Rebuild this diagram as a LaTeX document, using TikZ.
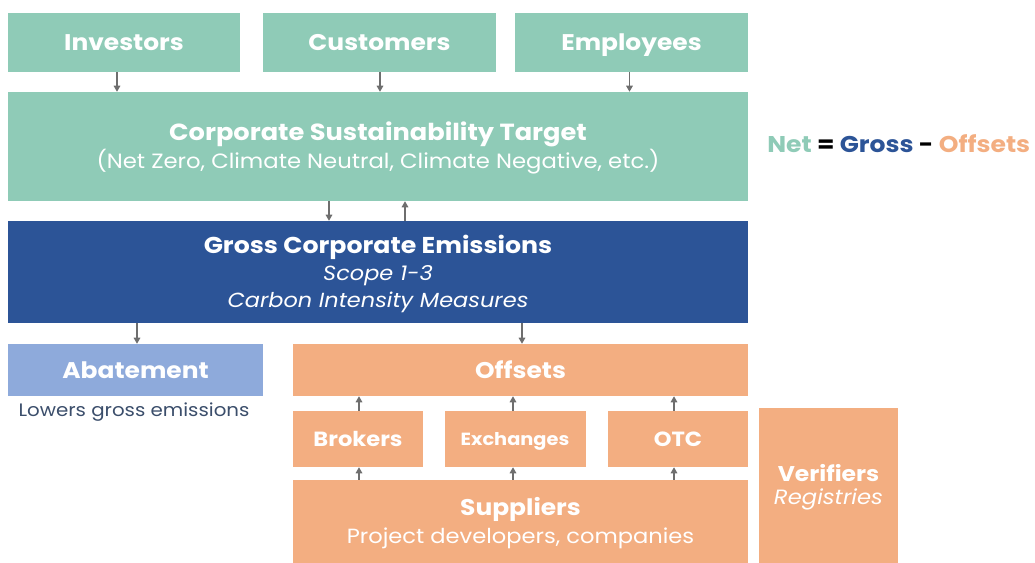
\documentclass[tikz,border=0pt]{standalone}
\usepackage{fontspec}
\setmainfont{Poppins}[FakeStretch=1.1]
\usetikzlibrary{arrows.meta}
\definecolor{teal}{HTML}{8FCBB7}
\definecolor{navy}{HTML}{2C5497}
\definecolor{lblue}{HTML}{8EAADB}
\definecolor{peach}{HTML}{F3AE81}
\definecolor{arrowgray}{HTML}{6E6E6E}
\definecolor{note}{HTML}{3B4E6B}
\begin{document}
\begin{tikzpicture}[x=0.75pt,y=-0.75pt,
  box/.style={rectangle, inner sep=0pt, text=white, align=center},
  tealbox/.style={box, fill=teal},
  navybox/.style={box, fill=navy},
  bluebox/.style={box, fill=lblue},
  peachbox/.style={box, fill=peach},
  head/.style={font=\fontsize{17}{20}\selectfont\bfseries, text height=12pt, text depth=0pt},
  flow/.style={draw=arrowgray, line width=0.8pt, -{Triangle[width=5pt,length=4.5pt]}}
]
\useasboundingbox (0,0) rectangle (1035,563);
% top row
\node[tealbox, head, minimum width=232*0.75pt, minimum height=59*0.75pt] (inv) at (124,42.5) {Investors};
\node[tealbox, head, minimum width=233*0.75pt, minimum height=59*0.75pt] (cus) at (379.5,42.5) {Customers};
\node[tealbox, head, minimum width=233*0.75pt, minimum height=59*0.75pt] (emp) at (631.5,42.5) {Employees};
% target
\node[tealbox, minimum width=740*0.75pt, minimum height=109*0.75pt] (cst) at (378,146.5) {};
\node[text=white, align=center, inner sep=0pt] (csttxt) at ([yshift=-1.5*0.75pt]cst.center)
  {\fontsize{17.5}{20}\selectfont\bfseries Corporate Sustainability Target\\[1pt]
   \fontsize{15.5}{20}\selectfont (Net Zero, Climate Neutral, Climate Negative, etc.)};
% gross
\node[navybox, minimum width=740*0.75pt, minimum height=102*0.75pt] (gce) at (378,272) {};
\node[text=white, align=center, inner sep=0pt] (gcetxt) at ([yshift=-1.5*0.75pt]gce.center)
  {\fontsize{17.2}{20}\selectfont\bfseries Gross Corporate Emissions\\[3.5pt]
   \fontsize{15.3}{20}\selectfont\itshape Scope 1-3\\[3.5pt]
   \fontsize{15.3}{20}\selectfont\itshape Carbon Intensity Measures};
% abatement & offsets
\node[bluebox, head, minimum width=255*0.75pt, minimum height=52*0.75pt] (aba) at (135.5,370) {Abatement};
\node[text=note, font=\fontsize{13.5}{16}\selectfont] (low) at (134,412) {Lowers gross emissions};
\node[peachbox, head, minimum width=455*0.75pt, minimum height=52*0.75pt] (off) at (520.5,370) {Offsets};
% intermediaries
\node[peachbox, font=\fontsize{15.4}{18}\selectfont\bfseries, text height=11pt, text depth=0pt, minimum width=130*0.75pt, minimum height=56*0.75pt] (bro) at (358,439) {Brokers};
\node[peachbox, font=\fontsize{13.2}{18}\selectfont\bfseries, text height=9.5pt, text depth=0pt, minimum width=141*0.75pt, minimum height=56*0.75pt] (exc) at (515,439) {Exchanges};
\node[peachbox, font=\fontsize{15.4}{18}\selectfont\bfseries, text height=11pt, text depth=0pt, minimum width=140*0.75pt, minimum height=56*0.75pt] (otc) at (678,439) {OTC};
% suppliers
\node[peachbox, minimum width=455*0.75pt, minimum height=83*0.75pt] (sup) at (520.5,521.5) {};
\node[text=white, align=center, inner sep=0pt] (suptxt) at ([yshift=-1.5*0.75pt]sup.center)
  {\fontsize{17}{20}\selectfont\bfseries Suppliers\\[3.5pt]
   \fontsize{15.4}{20}\selectfont Project developers, companies};
% verifiers
\node[peachbox, minimum width=139*0.75pt, minimum height=155*0.75pt] (ver) at (828.5,485.5) {};
\node[text=white, align=center, inner sep=0pt] (vertxt) at ([yshift=-2*0.75pt]ver.center)
  {\fontsize{16}{18}\selectfont\bfseries Verifiers\\[5.5pt]
   \fontsize{15.5}{18}\selectfont\itshape Registries};
% equation
\node[font=\fontsize{17.1}{20}\selectfont\bfseries, anchor=west, inner sep=0pt] (eq) at (767,144)
  {\textcolor{teal}{Net} = \textcolor{navy}{Gross} - \textcolor{peach}{Offsets}};
% arrows
\draw[flow] ([xshift=-7*0.75pt]inv.south) -- ([xshift=-7*0.75pt]inv.south |- cst.north);
\draw[flow] ([xshift=0.5*0.75pt]cus.south) -- ([xshift=0.5*0.75pt]cus.south |- cst.north);
\draw[flow] ([xshift=-2*0.75pt]emp.south) -- ([xshift=-2*0.75pt]emp.south |- cst.north);
\draw[flow] ([xshift=-49*0.75pt]cst.south) -- ([xshift=-49*0.75pt]cst.south |- gce.north);
\draw[flow] ([xshift=27*0.75pt]gce.north) -- ([xshift=27*0.75pt]gce.north |- cst.south);
\draw[flow] ([xshift=1.5*0.75pt]aba.north |- gce.south) -- ([xshift=1.5*0.75pt]aba.north);
\draw[flow] ([xshift=1.5*0.75pt]off.north |- gce.south) -- ([xshift=1.5*0.75pt]off.north);
\draw[flow] ([xshift=1*0.75pt]bro.north) -- ([xshift=1*0.75pt]bro.north |- off.south);
\draw[flow] ([xshift=-2*0.75pt]exc.north) -- ([xshift=-2*0.75pt]exc.north |- off.south);
\draw[flow] ([xshift=-4*0.75pt]otc.north) -- ([xshift=-4*0.75pt]otc.north |- off.south);
\draw[flow] ([xshift=1*0.75pt]bro.south |- sup.north) -- ([xshift=1*0.75pt]bro.south);
\draw[flow] ([xshift=-2*0.75pt]exc.south |- sup.north) -- ([xshift=-2*0.75pt]exc.south);
\draw[flow] ([xshift=-4*0.75pt]otc.south |- sup.north) -- ([xshift=-4*0.75pt]otc.south);
\end{tikzpicture}
\end{document}
